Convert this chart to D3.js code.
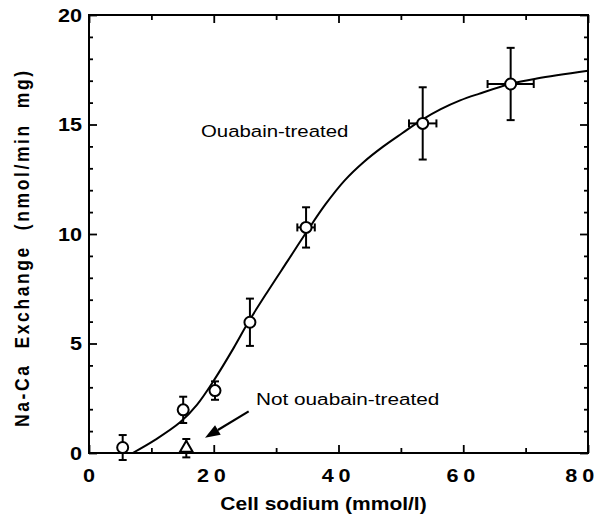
<!DOCTYPE html>
<html>
<head>
<meta charset="utf-8">
<script src="https://cdn.jsdelivr.net/npm/d3@7"></script>
<style>
  html, body { margin: 0; padding: 0; background: #fff; }
  svg { display: block; }
  text { font-family: "Liberation Sans", Arial, Helvetica, sans-serif; fill: #000; }
</style>
</head>
<body>
<svg id="chart" width="601" height="522"></svg>
<script>
// Ouabain-treated cells: cell sodium (mmol/l) vs Na-Ca exchange (nmol/min mg)
const cellNa   = [5.4, 15.1, 20.2, 25.8, 34.8, 53.5, 67.6];
const exchange = [0.25, 1.97, 2.85, 5.97, 10.3, 15.05, 16.85];
const errY     = [0.57, 0.6, 0.42, 1.08, 0.92, 1.65, 1.65];
const errX     = [0, 0, 0, 0, 1.4, 2.2, 3.7];

// Not ouabain-treated cells
const ctrlNa   = [15.6];
const ctrlEx   = [0.22];
const ctrlErrY = [0.42];

// Fitted curve through the ouabain-treated points
const fitX = [7, 10.6, 14.6, 17.3, 20.1, 23.2, 25.6, 28.7, 31.8, 34.9, 37.9, 41.0, 44.1, 47.2, 50.2, 53.3, 56.4, 59.5, 62.5, 67.5, 71.8, 80];
const fitY = [0, 0.6, 1.4, 2.2, 3.35, 4.8, 6.0, 7.4, 8.75, 10.1, 11.35, 12.45, 13.3, 14.0, 14.6, 15.2, 15.7, 16.1, 16.4, 16.85, 17.1, 17.45];

// Axis ticks
const xMajor = [0, 20, 40, 60, 80];
const xMinor = [10, 30, 50, 70];
const yMajor = [0, 5, 10, 15, 20];
const yMinor = d3.range(0, 21).filter(v => v % 5 !== 0);

const svg = d3.select("#chart");
const x = d3.scaleLinear().domain([0, 80]).range([89, 588]);
const y = d3.scaleLinear().domain([0, 20]).range([453, 15]);
const SX = 1.2; // horizontal stretch of the lettering

// inward ticks on all four sides
function ticks(axisFn, scale, vals, size, pos) {
  const g = svg.append("g")
    .attr("transform", pos)
    .call(axisFn(scale).tickValues(vals).tickSize(-size).tickSizeOuter(0).tickFormat(""));
  g.select(".domain").remove();
  g.selectAll("line").attr("stroke", "#000").attr("stroke-width", 1.8);
  return g;
}
ticks(d3.axisBottom, x, xMajor, 8, `translate(0,${y(0)})`);
ticks(d3.axisBottom, x, xMinor, 5, `translate(0,${y(0)})`);
ticks(d3.axisTop, x, xMajor, 8, `translate(0,${y(20)})`);
ticks(d3.axisTop, x, xMinor, 5, `translate(0,${y(20)})`);
ticks(d3.axisLeft, y, yMajor, 8, `translate(${x(0)},0)`);
ticks(d3.axisLeft, y, yMinor, 4, `translate(${x(0)},0)`);
ticks(d3.axisRight, y, yMajor, 8, `translate(${x(80)},0)`);
ticks(d3.axisRight, y, yMinor, 4, `translate(${x(80)},0)`);

// frame
svg.append("rect")
  .attr("x", x(0)).attr("y", y(20))
  .attr("width", x(80) - x(0)).attr("height", y(0) - y(20))
  .attr("fill", "none").attr("stroke", "#000").attr("stroke-width", 2);

// tick labels (the last one is kept inside the page edge)
const lastX = xMajor[xMajor.length - 1];
svg.append("g").selectAll("text").data(xMajor).join("text")
  .attr("transform", d => d === lastX
      ? `translate(599,482) scale(${SX},1)`
      : `translate(${x(d)},482) scale(${SX},1)`)
  .attr("text-anchor", d => d === lastX ? "end" : "middle")
  .style("letter-spacing", d => d === 0 ? "0px" : "4px")
  .attr("font-size", 18).attr("font-weight", "bold")
  .text(d => d);

svg.append("g").selectAll("text").data(yMajor).join("text")
  .attr("transform", d => `translate(82,${y(d) + 6.5}) scale(${SX},1)`)
  .attr("text-anchor", "end")
  .attr("font-size", 18).attr("font-weight", "bold")
  .text(d => d);

// axis titles
svg.append("text")
  .attr("transform", `translate(323.5,510) scale(${SX},1)`)
  .attr("text-anchor", "middle")
  .attr("font-size", 17.5).attr("font-weight", "bold")
  .text("Cell sodium (mmol/l)");

svg.append("text")
  .attr("transform", `translate(28.5,427) rotate(-90) scale(1,${SX})`)
  .attr("text-anchor", "start")
  .attr("font-size", 17.5).attr("font-weight", "bold")
  .attr("textLength", 356).attr("lengthAdjust", "spacing")
  .style("white-space", "pre")
  .text("Na-Ca  Exchange  (nmol/min  mg)");

// fitted curve
const line = d3.line().x(d => x(d[0])).y(d => y(d[1])).curve(d3.curveCatmullRom);
svg.append("path")
  .datum(d3.zip(fitX, fitY))
  .attr("d", line)
  .attr("fill", "none").attr("stroke", "#000").attr("stroke-width", 2);

// error bars
const cap = 4;
const pts = d3.range(cellNa.length).map(i => ({ x: cellNa[i], y: exchange[i], ey: errY[i], ex: errX[i] }));
const ctrl = d3.range(ctrlNa.length).map(i => ({ x: ctrlNa[i], y: ctrlEx[i], ey: ctrlErrY[i], ex: 0 }));
const all = pts.concat(ctrl);

const eb = svg.append("g").attr("stroke", "#000").attr("stroke-width", 2).attr("fill", "none");
all.forEach(d => {
  const cx = x(d.x), top = y(d.y + d.ey), bot = y(d.y - d.ey);
  eb.append("line").attr("x1", cx).attr("x2", cx).attr("y1", top).attr("y2", bot);
  eb.append("line").attr("x1", cx - cap).attr("x2", cx + cap).attr("y1", top).attr("y2", top);
  eb.append("line").attr("x1", cx - cap).attr("x2", cx + cap).attr("y1", bot).attr("y2", bot);
  if (d.ex > 0) {
    const cy = y(d.y), l = x(d.x - d.ex), r = x(d.x + d.ex);
    eb.append("line").attr("x1", l).attr("x2", r).attr("y1", cy).attr("y2", cy);
    eb.append("line").attr("x1", l).attr("x2", l).attr("y1", cy - cap).attr("y2", cy + cap);
    eb.append("line").attr("x1", r).attr("x2", r).attr("y1", cy - cap).attr("y2", cy + cap);
  }
});

// open circles
svg.append("g").selectAll("circle").data(pts).join("circle")
  .attr("cx", d => x(d.x)).attr("cy", d => y(d.y)).attr("r", 5.5)
  .attr("fill", "#fff").attr("stroke", "#000").attr("stroke-width", 2);

// open triangle
svg.append("g").selectAll("path").data(ctrl).join("path")
  .attr("transform", d => `translate(${x(d.x)},${y(d.y)})`)
  .attr("d", d3.symbol(d3.symbolTriangle, 70))
  .attr("fill", "#fff").attr("stroke", "#000").attr("stroke-width", 2);

// labels
svg.append("text")
  .attr("transform", `translate(201,137) scale(${SX},1)`)
  .attr("font-size", 17)
  .text("Ouabain-treated");

svg.append("text")
  .attr("transform", `translate(256,405) scale(${SX},1)`)
  .attr("font-size", 17.3)
  .text("Not ouabain-treated");

// arrow pointing to the untreated point
const arrowFrom = [25.6, 1.9], arrowTo = [18.6, 0.7];
const ax0 = x(arrowFrom[0]), ay0 = y(arrowFrom[1]), ax1 = x(arrowTo[0]), ay1 = y(arrowTo[1]);
const ang = Math.atan2(ay1 - ay0, ax1 - ax0);
const hl = 15, hw = 5.5;
const bx = ax1 - hl * Math.cos(ang), by = ay1 - hl * Math.sin(ang);
svg.append("line")
  .attr("x1", ax0).attr("y1", ay0).attr("x2", bx).attr("y2", by)
  .attr("stroke", "#000").attr("stroke-width", 2.2);
svg.append("path")
  .attr("d", `M${ax1},${ay1}L${bx + hw * Math.sin(ang)},${by - hw * Math.cos(ang)}L${bx - hw * Math.sin(ang)},${by + hw * Math.cos(ang)}Z`)
  .attr("fill", "#000");
</script>
</body>
</html>
